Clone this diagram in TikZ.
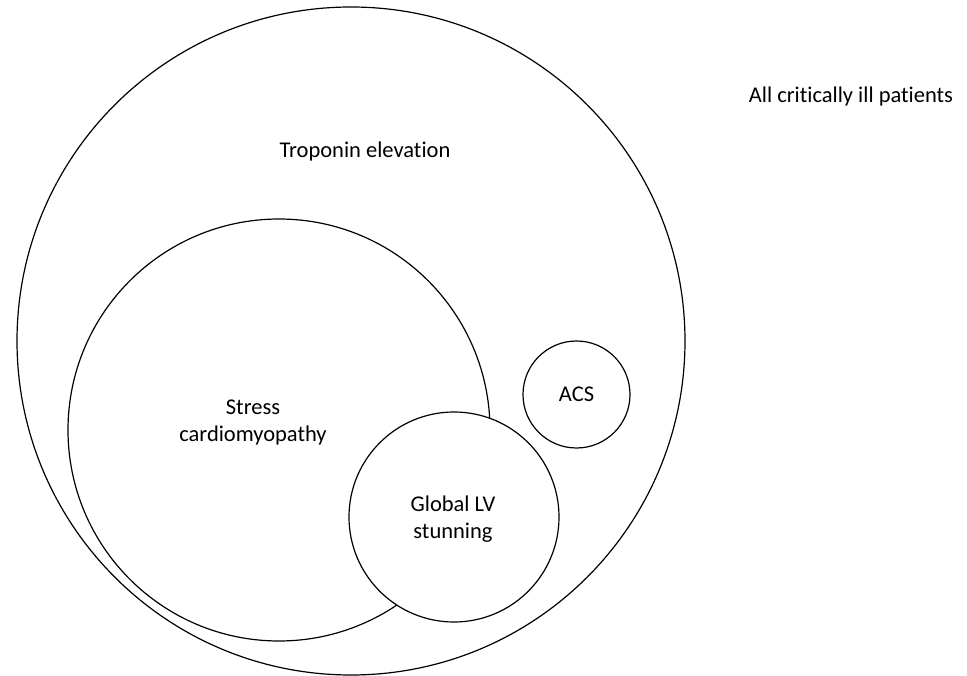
\documentclass[tikz,border=0pt]{standalone}
\usepackage{fontspec}
\setmainfont{Carlito}[Ligatures=NoCommon]
\usepackage{tikz}

\begin{document}
\begin{tikzpicture}[x=1pt,y=-1pt,line width=1.2pt]
		\useasboundingbox (0,0) rectangle (967,676);
		\tikzset{lbl/.style={align=center,font=\fontsize{22.5}{27}\selectfont}}
		\draw (351,341) circle (334);
		\draw (279,430) circle (211);
		\draw[fill=white] (454,517) circle (105);
		\draw (576.5,394.5) circle (53.5);
		\node[lbl] (all) at (851,97) {All critically ill patients};
		\node[lbl] (trop) at (365,152) {Troponin elevation};
		\node[lbl] (stress) at (253,423) {Stress\\cardiomyopathy};
		\node[lbl] (acs) at (576.5,394) {ACS};
		\node[lbl] (glv) at (453,519) {Global LV\\stunning};
	\end{tikzpicture}
\end{document}
